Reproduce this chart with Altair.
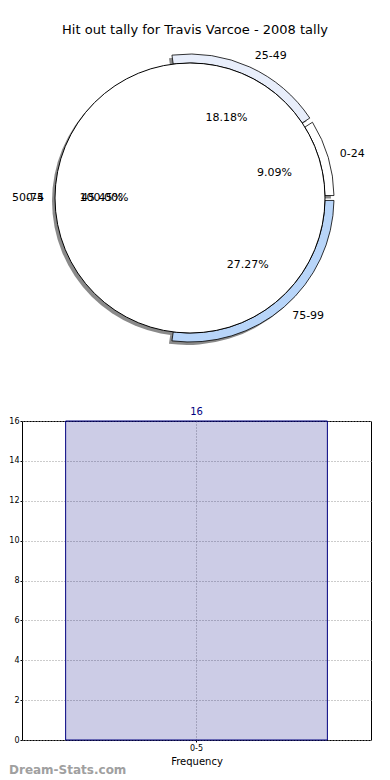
import math
import altair as alt
import pandas as pd

# ---------------- data ----------------
title_text = "Hit out tally for Travis Varcoe - 2008 tally"

pie_cats = ["0-24", "25-49", "50-74", "75-99"]
pie_counts = [1, 2, 5, 3]
pie_order = [4, 3, 2, 1]          # stacking order (clockwise from 3 o'clock)
pie_explode = [1, 1, 0, 1]
pie_colors = ["#ffffff", "#e8eefb", "#ffffff", "#b8d5f9"]
pie_side = ["right", "right", "left", "right"]

full_cats = ["0-5"]
full_counts = [16]

bar_cats = ["0-5"]
bar_vals = [16]
y_ticks = [0, 2, 4, 6, 8, 10, 12, 14, 16]

watermark = ["Dream-Stats.com"]

# ---------------- tables ----------------
total = sum(pie_counts)
pie_df = pd.DataFrame({
    "cat": pie_cats,
    "count": pie_counts,
    "ord": pie_order,
    "explode": pie_explode,
    "color": pie_colors,
    "side": pie_side,
    "pct": [f"{c / total * 100:.2f}%" for c in pie_counts],
})
full_total = sum(full_counts)
full_df = pd.DataFrame({
    "cat": full_cats,
    "pct": [f"{c / full_total * 100:.2f}%" for c in full_counts],
})
bar_df = pd.DataFrame({"cat": bar_cats, "val": bar_vals})
wm_df = pd.DataFrame({"t": watermark})
title_df = pd.DataFrame({"t": [title_text]})

FONT = "DejaVu Sans"
R = 135
RING = 9
W_TOP, H_TOP = 336, 380

theta_enc = alt.Theta(
    "count:Q", stack=True,
    scale=alt.Scale(range=[math.pi / 2, math.pi / 2 + 2 * math.pi]),
)
order_enc = alt.Order("ord:Q", sort="ascending")

pie_base = alt.Chart(pie_df).encode(theta=theta_enc, order=order_enc)

shadow_full = alt.Chart(full_df).mark_arc(
    radius=R, fill="#8a8a8a", xOffset=-3, yOffset=3
).encode(theta=alt.value(0), theta2=alt.value(2 * math.pi))

shadow_rings = pie_base.mark_arc(
    radius=R + RING, radius2=R, padAngle=0.025, fill="#8a8a8a",
    xOffset=-3, yOffset=3
).encode(opacity=alt.Opacity("explode:Q", scale=None, legend=None))

rings = pie_base.mark_arc(
    radius=R + RING, radius2=R, padAngle=0.025, stroke="black", strokeWidth=0.8
).encode(
    fill=alt.Fill("color:N", scale=None, legend=None),
    opacity=alt.Opacity("explode:Q", scale=None, legend=None),
)

main_circle = alt.Chart(full_df).mark_arc(
    radius=R, fill="white", stroke="black", strokeWidth=1
).encode(theta=alt.value(0), theta2=alt.value(2 * math.pi))

pct_text = pie_base.mark_text(
    radius=88, fontSize=11, font=FONT, color="black", align="center", baseline="middle"
).encode(text="pct:N")

lab_right = pie_base.transform_calculate(
    lab="datum.side == 'right' ? datum.cat : ''"
).mark_text(
    radius=156, fontSize=11, font=FONT, color="black", align="left", baseline="middle"
).encode(text="lab:N")

lab_left = pie_base.transform_calculate(
    lab="datum.side == 'left' ? datum.cat : ''"
).mark_text(
    radius=146, fontSize=11, font=FONT, color="black", align="right", baseline="middle"
).encode(text="lab:N")

full_pct = alt.Chart(full_df).mark_text(
    fontSize=11, font=FONT, color="black", align="center", baseline="middle"
).encode(theta=alt.value(3 * math.pi / 2), radius=alt.value(86), text="pct:N")

full_lab = alt.Chart(full_df).mark_text(
    fontSize=11, font=FONT, color="black", align="right", baseline="middle"
).encode(theta=alt.value(3 * math.pi / 2), radius=alt.value(146), text="cat:N")

title_mark = alt.Chart(title_df).mark_text(
    fontSize=13, font=FONT, color="black", align="center", baseline="middle"
).encode(x=alt.value(173), y=alt.value(22), text="t:N")

top = alt.layer(
    shadow_full, shadow_rings, rings, main_circle,
    pct_text, lab_right, lab_left, full_pct, full_lab, title_mark
).properties(
    width=W_TOP, height=H_TOP,
    view=alt.ViewBackground(strokeOpacity=0),
)

# ---------------- bar chart ----------------
base = alt.Chart(bar_df).encode(
    x=alt.X(
        "cat:N", title="Frequency",
        scale=alt.Scale(paddingInner=0, paddingOuter=0),
        axis=alt.Axis(
            labelAngle=0, labelFontSize=8, labelFont=FONT, labelColor="black",
            titleFontSize=10, titleFont=FONT, titleColor="black", titleFontWeight="normal",
            tickSize=2, tickColor="black", labelPadding=2, titlePadding=4,
            domain=False, grid=True, gridDash=[1, 2], gridColor="#999999",
            bandPosition=0.5,
        ),
    ),
    y=alt.Y(
        "val:Q", title=None,
        scale=alt.Scale(domain=[0, 16], nice=False),
        axis=alt.Axis(
            values=y_ticks, labelFontSize=8, labelFont=FONT, labelColor="black",
            tickSize=2, tickColor="black", labelPadding=1,
            domain=False, grid=True, gridDash=[1, 2], gridColor="#999999",
        ),
    ),
)

bars = base.mark_bar(
    fill="#000080", fillOpacity=0.2, stroke="#000080", strokeWidth=1,
    width=alt.RelativeBandSize(0.75),
)
bar_label = base.mark_text(
    dy=-4, baseline="bottom", fontSize=10, font=FONT, color="#000080"
).encode(text="val:Q")

wm = alt.Chart(wm_df).mark_text(
    align="left", baseline="middle", fontSize=12, font=FONT, fontWeight="bold",
    color="#a0a0a0"
).encode(x=alt.value(-13), y=alt.value(349), text="t:N")

bottom = alt.layer(bars, bar_label, wm).properties(
    width=349, height=319,
    view=alt.ViewBackground(stroke="black", strokeWidth=1),
)

chart = alt.vconcat(top, bottom, spacing=33, bounds="flush").properties(
    padding={"left": 0, "top": 0, "right": 0, "bottom": 0}
).configure(font=FONT)

chart.save("out.html", embed_options={"renderer": "svg", "actions": False})
